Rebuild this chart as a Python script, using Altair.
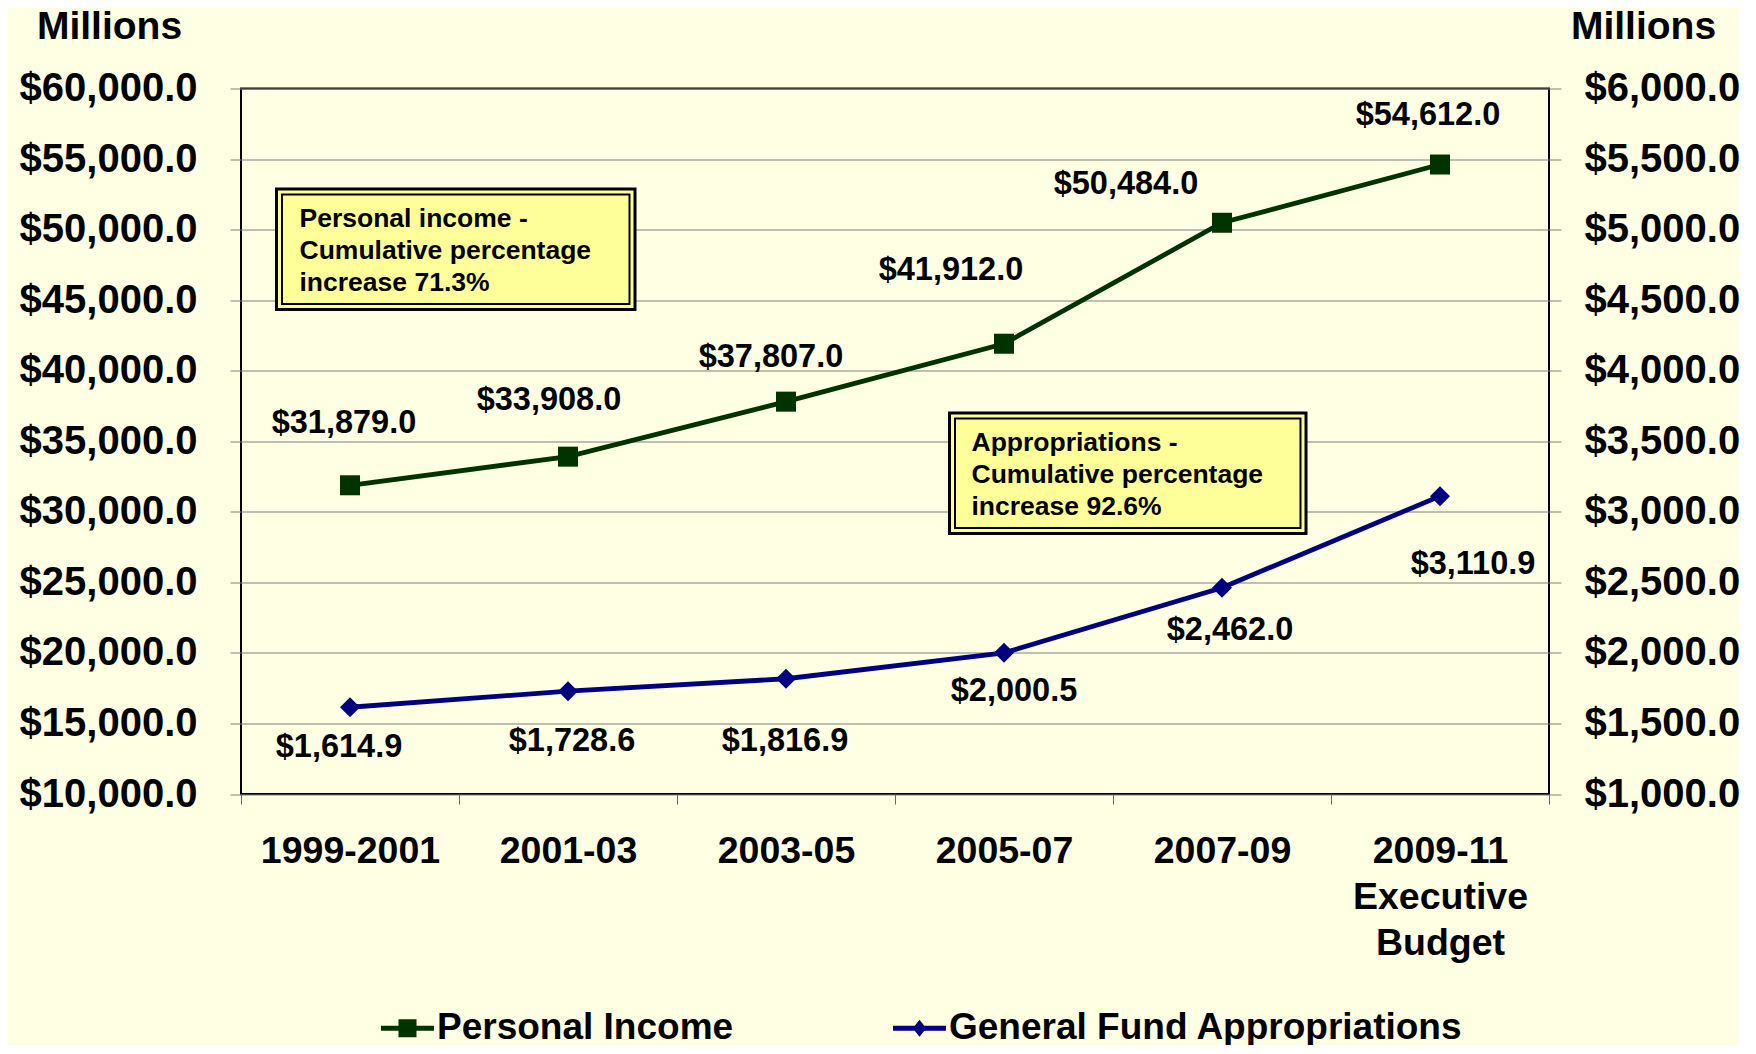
import altair as alt
import pandas as pd

# ---------------- data ----------------
periods = ["1999-2001", "2001-03", "2003-05", "2005-07", "2007-09", "2009-11\nExecutive\nBudget"]
personal_income = [31879.0, 33908.0, 37807.0, 41912.0, 50484.0, 54612.0]
appropriations = [1614.9, 1728.6, 1816.9, 2000.5, 2462.0, 3110.9]
series_names = ["Personal Income", "General Fund Appropriations"]
left_ticks = [10000, 15000, 20000, 25000, 30000, 35000, 40000, 45000, 50000, 55000, 60000]
right_ticks = [1000, 1500, 2000, 2500, 3000, 3500, 4000, 4500, 5000, 5500, 6000]
axis_title = "Millions"
note_texts = [
    "Personal income -\nCumulative percentage\nincrease 71.3%",
    "Appropriations -\nCumulative percentage\nincrease 92.6%",
]

# ---------------- style ----------------
GREEN = "#003300"
BLUE = "#000080"
BG = "#FFFFE3"
NOTE_FILL = "#FFFF99"
GRID = "#808080"
FONT = "Liberation Sans"

# label offsets (pixels) for the data labels
pi_label_offsets = [(-6, -62), (-19, -57), (-15, -45), (-53, -74), (-96, -39), (-12, -50)]
ap_label_offsets = [(-11, 40), (4, 50), (-1, 62), (10, 38), (8, 42), (33, 68)]

df = pd.DataFrame({"period": periods, "pi": personal_income, "ap": appropriations})
legend_df = pd.DataFrame({"period": [periods[0]] * 2, "pi": [personal_income[0]] * 2,
                          "series": series_names})

x_enc = alt.X(
    "period:N",
    sort=periods,
    scale=alt.Scale(type="band", domain=periods, paddingInner=0, paddingOuter=0),
    axis=alt.Axis(
        title=None, tickBand="extent",
        labelExpr="isValid(datum.value) ? split(datum.value, '\\n') : ''",
        labelAngle=0, labelFontSize=37.5, labelFont=FONT, labelFontWeight="bold",
        labelColor="black", labelPadding=28, labelLineHeight=46, tickSize=10,
        tickColor="#666666", domain=False, grid=False, labelLimit=0,
    ),
)

y_left = alt.Y(
    "pi:Q",
    scale=alt.Scale(domain=[10000, 60000], nice=False, zero=False),
    axis=alt.Axis(
        title=axis_title, titleAngle=0, titleAlign="center", titleBaseline="alphabetic",
        titleX=-132, titleY=-50, titleFontSize=39, titleFont=FONT, titleFontWeight="bold",
        titleColor="black", values=left_ticks,
        labelExpr="'$' + format(datum.value, ',.1f')", labelFontSize=40, labelFont=FONT,
        labelFontWeight="bold", labelColor="black", labelPadding=33, tickSize=11,
        tickColor=GRID, domain=False, grid=True, gridColor=GRID, gridWidth=1, labelLimit=0,
    ),
)

y_right = alt.Y(
    "ap:Q",
    scale=alt.Scale(domain=[1000, 6000], nice=False, zero=False),
    axis=alt.Axis(
        orient="right", title=axis_title, titleAngle=0, titleAlign="center",
        titleBaseline="alphabetic", titleX=94, titleY=-50, titleFontSize=39, titleFont=FONT,
        titleFontWeight="bold", titleColor="black", values=right_ticks,
        labelExpr="'$' + format(datum.value, ',.1f')", labelFontSize=40, labelFont=FONT,
        labelFontWeight="bold", labelColor="black", labelPadding=23, tickSize=12,
        tickColor=GRID, domain=False, grid=False, labelLimit=0,
    ),
)

base = alt.Chart(df)

# ---- personal income (left axis) ----
pi_line = base.mark_line(color=GREEN, strokeWidth=4.8).encode(x=x_enc, y=y_left)
pi_pts = base.mark_point(shape="square", filled=True, size=400, color=GREEN, opacity=1).encode(
    x=x_enc, y=y_left)
pi_texts = []
for i, (dx, dy) in enumerate(pi_label_offsets):
    pi_texts.append(
        base.transform_filter(alt.datum.period == periods[i])
        .transform_calculate(lbl="'$' + format(datum.pi, ',.1f')")
        .mark_text(fontSize=32.5, font=FONT, fontWeight="bold", color="black",
                   dx=dx, dy=dy, align="center", baseline="middle")
        .encode(x=x_enc, y=y_left, text="lbl:N")
    )

# legend symbols: line with square / line with diamond
sq_path = "M-1,-0.09H-0.34V-0.34H0.34V-0.09H1V0.09H0.34V0.34H-0.34V0.09H-1Z"
dm_path = "M-1,-0.09H-0.18L0,-0.32L0.18,-0.09H1V0.09H0.18L0,0.32L-0.18,0.09H-1Z"

legend = alt.Legend(
    title=None, orient="none", legendX=140, legendY=913, direction="horizontal",
    symbolSize=2809, symbolStrokeWidth=0, symbolOpacity=1, labelFontSize=37, labelFont=FONT,
    labelFontWeight="bold", labelColor="black", labelOffset=3, columnPadding=159,
    labelLimit=0, padding=0,
)
legend_layer = (
    alt.Chart(legend_df)
    .transform_filter("datum.pi < 0")
    .mark_point(filled=True, size=2809)
    .encode(
        x=x_enc, y=y_left,
        color=alt.Color("series:N", scale=alt.Scale(domain=series_names, range=[GREEN, BLUE]),
                        legend=legend),
        shape=alt.Shape("series:N",
                        scale=alt.Scale(domain=series_names, range=[sq_path, dm_path]),
                        legend=legend),
    )
)

# ---- annotation boxes ----
def note_box(text, x0, x1, y0, y1, tx, ty):
    d = alt.Chart(pd.DataFrame({"note": [text]}))
    outer = d.mark_rect(fill=NOTE_FILL, stroke="black", strokeWidth=3).encode(
        x=alt.value(x0), x2=alt.value(x1), y=alt.value(y0), y2=alt.value(y1))
    inner = d.mark_rect(fill=NOTE_FILL, stroke="black", strokeWidth=2).encode(
        x=alt.value(x0 + 5.5), x2=alt.value(x1 - 5.5), y=alt.value(y0 + 5.5),
        y2=alt.value(y1 - 5.5))
    txt = d.mark_text(align="left", baseline="alphabetic", lineBreak="\n", lineHeight=32,
                      fontSize=26.5, font=FONT, fontWeight="bold", color="black").encode(
        x=alt.value(tx), y=alt.value(ty), text="note:N")
    return [outer, inner, txt]

box1 = note_box(note_texts[0], 35.5, 394, 100.5, 221, 58.5, 138.5)
box2 = note_box(note_texts[1], 708.5, 1065, 324.5, 445, 730.5, 362)

left = alt.layer(*box1, *box2, pi_line, pi_pts, *pi_texts, legend_layer)

# ---- appropriations (right axis) ----
ap_line = base.mark_line(color=BLUE, strokeWidth=4.8).encode(x=x_enc, y=y_right)
ap_pts = base.mark_point(shape="diamond", filled=True, size=400, color=BLUE, opacity=1).encode(
    x=x_enc, y=y_right)
ap_texts = []
for i, (dx, dy) in enumerate(ap_label_offsets):
    ap_texts.append(
        base.transform_filter(alt.datum.period == periods[i])
        .transform_calculate(lbl="'$' + format(datum.ap, ',.1f')")
        .mark_text(fontSize=32.5, font=FONT, fontWeight="bold", color="black",
                   dx=dx, dy=dy, align="center", baseline="middle")
        .encode(x=x_enc, y=y_right, text="lbl:N")
    )
right = alt.layer(ap_line, ap_pts, *ap_texts)

chart = (
    alt.layer(left, right)
    .resolve_scale(y="independent")
    .properties(
        width=1308, height=705.5,
        autosize=alt.AutoSizeParams(type="none"),
        padding={"left": 233, "top": 80.5, "right": 190, "bottom": 251},
        background=BG,
    )
    .configure_view(stroke="black", strokeWidth=2)
)

chart.save("out.html", embed_options={"renderer": "svg", "actions": False})
